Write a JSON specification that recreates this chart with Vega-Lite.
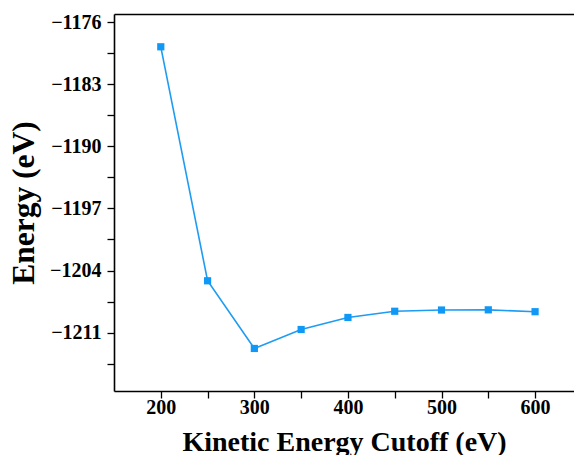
{
  "$schema": "https://vega.github.io/schema/vega-lite/v6.json",
  "width": 460,
  "height": 377,
  "autosize": {"type": "none"},
  "padding": {"left": 114, "top": 14, "right": 0, "bottom": 64},
  "background": "white",
  "config": {
    "view": {"stroke": null},
    "font": "Liberation Serif",
    "axis": {
      "labelFont": "Liberation Serif",
      "labelFontWeight": "bold",
      "labelFontSize": 20,
      "labelColor": "black",
      "titleFont": "Liberation Serif",
      "titleFontWeight": "bold",
      "titleFontSize": 28,
      "titleColor": "black",
      "domainColor": "black",
      "domainWidth": 1.6,
      "tickColor": "black",
      "tickWidth": 1.3,
      "tickSize": 7,
      "grid": false
    }
  },
  "data": {
    "values": [
      {"cutoff": 200, "energy": -1178.75},
      {"cutoff": 250, "energy": -1205.16},
      {"cutoff": 300, "energy": -1212.8},
      {"cutoff": 350, "energy": -1210.66},
      {"cutoff": 400, "energy": -1209.3},
      {"cutoff": 450, "energy": -1208.6},
      {"cutoff": 500, "energy": -1208.46},
      {"cutoff": 550, "energy": -1208.44},
      {"cutoff": 600, "energy": -1208.65}
    ]
  },
  "resolve": {"axis": {"x": "independent"}},
  "layer": [
    {
      "mark": {
        "type": "line",
        "color": "#1e9cf3",
        "strokeWidth": 1.6,
        "point": {"shape": "square", "size": 52, "filled": true, "color": "#0f98f5", "opacity": 1}
      },
      "encoding": {
        "x": {
          "field": "cutoff",
          "type": "quantitative",
          "scale": {"domain": [150, 641.6], "nice": false, "zero": false},
          "axis": {
            "title": "Kinetic Energy Cutoff (eV)",
            "values": [200, 250, 300, 350, 400, 450, 500, 550, 600],
            "labelExpr": "datum.value % 100 == 0 ? datum.label : ''",
            "labelPadding": -1,
            "titlePadding": 11,
            "labelFlush": false,
            "labelOverlap": false
          }
        },
        "y": {
          "field": "energy",
          "type": "quantitative",
          "scale": {"domain": [-1217.6, -1175.05], "nice": false, "zero": false},
          "axis": {
            "title": "Energy (eV)",
            "titleFontSize": 31.5,
            "values": [-1176, -1179.5, -1183, -1186.5, -1190, -1193.5, -1197, -1200.5, -1204, -1207.5, -1211, -1214.5],
            "labelExpr": "abs(datum.value - round(datum.value)) < 0.01 ? replace(format(datum.value, 'd'), '-', '\u2212') : ''",
            "labelPadding": 6,
            "titlePadding": 9,
            "labelFlush": false,
            "labelOverlap": false
          }
        }
      }
    },
    {
      "mark": {"type": "point", "opacity": 0},
      "encoding": {
        "x": {
          "field": "cutoff",
          "type": "quantitative",
          "scale": {"domain": [150, 641.6], "nice": false, "zero": false},
          "axis": {"orient": "top", "labels": false, "ticks": false, "title": null}
        }
      }
    }
  ]
}
